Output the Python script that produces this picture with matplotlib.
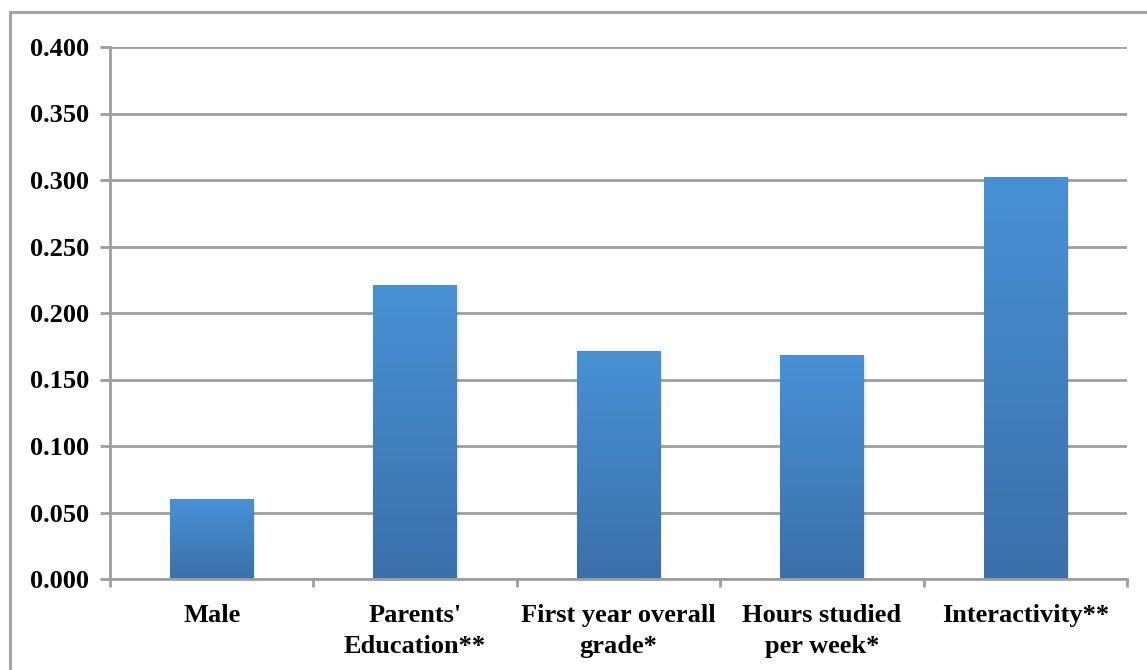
import numpy as np
import matplotlib
matplotlib.use('Agg')
import matplotlib.pyplot as plt
from matplotlib.patches import Rectangle
from matplotlib.colors import LinearSegmentedColormap

categories = ['Male', "Parents'\nEducation**", 'First year overall\ngrade*',
              'Hours studied\nper week*', 'Interactivity**']
values = [0.060, 0.221, 0.171, 0.168, 0.302]
yticks = [0.0, 0.05, 0.1, 0.15, 0.2, 0.25, 0.3, 0.35, 0.4]

plt.rcParams['font.family'] = ['Liberation Serif', 'DejaVu Serif']
plt.rcParams['font.weight'] = 'bold'

fig = plt.figure(figsize=(11.47, 6.70), dpi=100)
ax = fig.add_axes([110/1147, 1-579/670, 1017/1147, 532/670])

# outer chart border (runs off the right/bottom of the picture)
fig.patches.append(Rectangle((10/1147, -0.1), 1.2, 1-12/670+0.1,
                             transform=fig.transFigure, fill=False,
                             edgecolor='#a6a6a6', lw=2.2))

grey = '#9f9f9f'
for y in yticks:
    ax.axhline(y, color=grey, lw=2, zorder=1)

cmap = LinearSegmentedColormap.from_list('bar', ['#3a70a9', '#4891d6'])
grad = np.linspace(0, 1, 256).reshape(-1, 1)
x = np.arange(len(categories))
w = 0.41
for xi, v in zip(x, values):
    # soft shadow
    ax.add_patch(Rectangle((xi - w/2 + 0.01, 0), w, v - 0.001, color='#000000',
                           alpha=0.08, lw=0, zorder=2))
    ax.imshow(grad, cmap=cmap, origin='lower', aspect='auto',
              extent=(xi - w/2, xi + w/2, 0, v), zorder=3)

ax.set_xlim(-0.5, len(categories) - 0.5)
ax.set_ylim(0, 0.4)
ax.set_yticks(yticks)
ax.set_yticklabels(['%.3f' % t for t in yticks], fontsize=19, fontweight='bold')
ax.set_xticks(x)
ax.set_xticklabels(categories, fontsize=19, fontweight='bold', linespacing=1.42)
ax.tick_params(axis='x', length=0, pad=18)
ax.tick_params(axis='y', length=7, width=2, color=grey, pad=8)
ax.set_xticks(np.arange(len(categories) + 1) - 0.5, minor=True)
ax.tick_params(axis='x', which='minor', length=6, width=2, color=grey)

for s in ['top', 'right']:
    ax.spines[s].set_visible(False)
for s in ['left', 'bottom']:
    ax.spines[s].set_color(grey)
    ax.spines[s].set_linewidth(2)
ax.spines['bottom'].set_zorder(4)

fig.savefig('out.png', dpi=100)
